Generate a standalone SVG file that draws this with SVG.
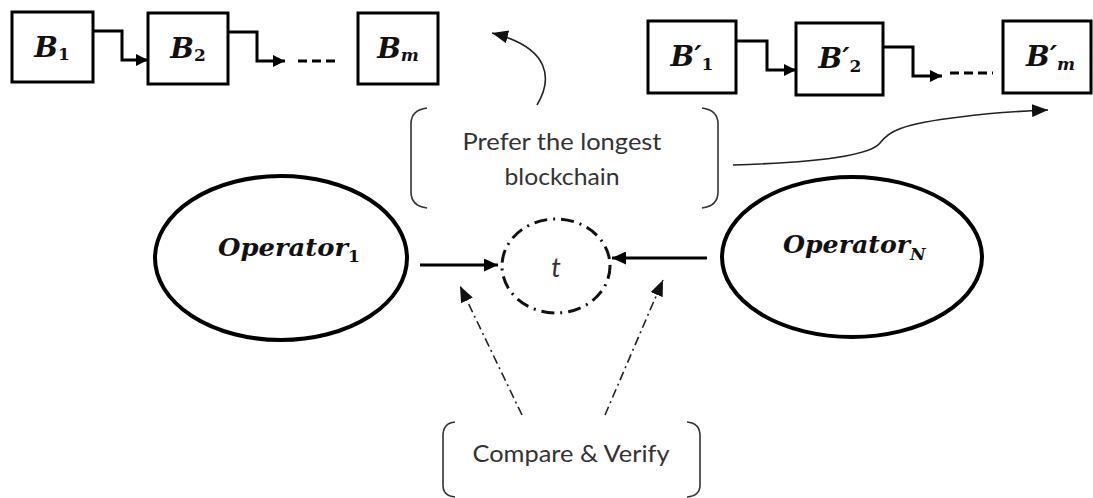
<svg xmlns="http://www.w3.org/2000/svg" width="1093" height="498" viewBox="0 0 1093 498">
  <defs>
    <style>
      .box { fill: #fff; stroke: #000; stroke-width: 3; }
      .oval { fill: #fff; stroke: #000; stroke-width: 4; }
      .math { font-family: "DejaVu Serif", "Liberation Serif", serif; font-weight: bold; font-style: italic; fill: #111; }
      .sub { font-style: normal; font-size: 17px; }
      .subi { font-size: 17px; }
      .note { font-family: Lato, "Open Sans", "Liberation Sans", sans-serif; font-size: 24px; fill: #333; }
      .brace { fill: none; stroke: #333; stroke-width: 1.6; }
      .thick { fill: none; stroke: #000; stroke-width: 3; }
      .chain { fill: none; stroke: #000; stroke-width: 3; }
      .ellipsis { fill: none; stroke: #000; stroke-width: 3; stroke-dasharray: 9 5; }
      .curve { fill: none; stroke: #222; stroke-width: 1.6; }
      .dashdot { fill: none; stroke: #222; stroke-width: 1.6; stroke-dasharray: 9 4 2 4; }
    </style>
    <marker id="headChain" markerUnits="userSpaceOnUse" markerWidth="12" markerHeight="12" refX="12" refY="6" orient="auto">
      <path d="M0,0 L12,6 L0,12 z" fill="#000"/>
    </marker>
    <marker id="headThick" markerUnits="userSpaceOnUse" markerWidth="14" markerHeight="13" refX="14" refY="6.5" orient="auto">
      <path d="M0,0 L14,6.5 L0,13 z" fill="#000"/>
    </marker>
    <marker id="headThin" markerUnits="userSpaceOnUse" markerWidth="16" markerHeight="13" refX="16" refY="6.5" orient="auto">
      <path d="M0,0 L16,6.5 L0,13 z" fill="#111"/>
    </marker>
  </defs>

  <rect width="1093" height="498" fill="#fff"/>

  <!-- first chain of blocks -->
  <g id="block-b1">
    <rect class="box" x="12" y="12" width="81" height="70"/>
    <text class="math" x="52" y="57" text-anchor="middle" font-size="28">B<tspan class="sub" dy="3">1</tspan></text>
  </g>
  <g id="block-b2">
    <rect class="box" x="148" y="13" width="80" height="71"/>
    <text class="math" x="188" y="58" text-anchor="middle" font-size="28">B<tspan class="sub" dy="3">2</tspan></text>
  </g>
  <g id="block-bm">
    <rect class="box" x="358" y="13" width="80" height="71"/>
    <text class="math" x="398" y="58" text-anchor="middle" font-size="28">B<tspan class="subi" dy="3">m</tspan></text>
  </g>

  <!-- second chain of blocks -->
  <g id="block-b1p">
    <rect class="box" x="648" y="21" width="88" height="72"/>
    <text class="math" x="692" y="66" text-anchor="middle" font-size="28">B′<tspan class="sub" dy="4">1</tspan></text>
  </g>
  <g id="block-b2p">
    <rect class="box" x="796" y="23" width="87" height="72"/>
    <text class="math" x="840" y="68" text-anchor="middle" font-size="28">B′<tspan class="sub" dy="4">2</tspan></text>
  </g>
  <g id="block-bmp">
    <rect class="box" x="1003" y="21" width="88" height="72"/>
    <text class="math" x="1026" y="66" font-size="28">B′<tspan class="subi" dy="4">m</tspan></text>
  </g>

  <!-- annotation: longest chain rule -->
  <g id="note-longest">
    <path class="brace" d="M427,108 Q411,110 411,124 V192 Q411,206 427,208"/>
    <path class="brace" d="M702,108 Q718,110 718,124 V192 Q718,206 702,208"/>
    <text class="note" x="562" y="150" text-anchor="middle" textLength="199" lengthAdjust="spacingAndGlyphs">Prefer the longest</text>
    <text class="note" x="562" y="185" text-anchor="middle" textLength="115" lengthAdjust="spacingAndGlyphs">blockchain</text>
  </g>

  <!-- operators -->
  <g id="operator-1">
    <ellipse class="oval" cx="281" cy="258" rx="126" ry="82"/>
    <text class="math" x="218" y="256" font-size="25"><tspan textLength="130" lengthAdjust="spacingAndGlyphs">Operator</tspan><tspan class="sub" dy="6">1</tspan></text>
  </g>
  <g id="operator-n">
    <ellipse class="oval" cx="852" cy="257" rx="130" ry="80"/>
    <text class="math" x="783" y="253" font-size="25"><tspan textLength="127" lengthAdjust="spacingAndGlyphs">Operator</tspan><tspan class="subi" dy="7">N</tspan></text>
  </g>

  <!-- shared value t -->
  <g id="value-t">
    <ellipse cx="556" cy="266" rx="54" ry="47" fill="none" stroke="#111" stroke-width="3" stroke-dasharray="13 6 2 6"/>
    <text x="556" y="277" text-anchor="middle" font-family="Lato, 'Open Sans', sans-serif" font-style="italic" font-size="27" fill="#333">t</text>
  </g>

  <!-- annotation: comparison step -->
  <g id="note-compare">
    <path class="brace" d="M455,422 Q443,423 443,436 V485 Q443,496 455,497"/>
    <path class="brace" d="M687,422 Q700,423 700,436 V485 Q700,496 687,497"/>
    <text class="note" x="571" y="462" text-anchor="middle" textLength="197" lengthAdjust="spacingAndGlyphs">Compare &amp; Verify</text>
  </g>

  <!-- connectors -->
  <g id="connectors">
    <path class="chain" d="M93,31 H122 V60 H148" marker-end="url(#headChain)"/>
    <path class="chain" d="M228,32 H257 V61 H285" marker-end="url(#headChain)"/>
    <path class="ellipsis" d="M298,61 H340"/>
    <path class="chain" d="M736,41 H767 V70 H796" marker-end="url(#headChain)"/>
    <path class="chain" d="M883,47 H913 V76 H942" marker-end="url(#headChain)"/>
    <path class="ellipsis" d="M950,73 H993"/>

    <path class="curve" d="M537,105 C552,80 552,48 492,33" marker-end="url(#headThin)"/>
    <path class="curve" d="M733,165 C800,163 868,158 880,143 C888,132 900,124 960,117 C990,113 1020,111 1048,110" marker-end="url(#headThin)"/>

    <path class="thick" d="M420,265 H498" marker-end="url(#headThick)"/>
    <path class="thick" d="M707,258 H612" marker-end="url(#headThick)"/>

    <path class="dashdot" d="M522,415 L460,286" marker-end="url(#headThin)"/>
    <path class="dashdot" d="M605,415 L663,280" marker-end="url(#headThin)"/>
  </g>
</svg>
